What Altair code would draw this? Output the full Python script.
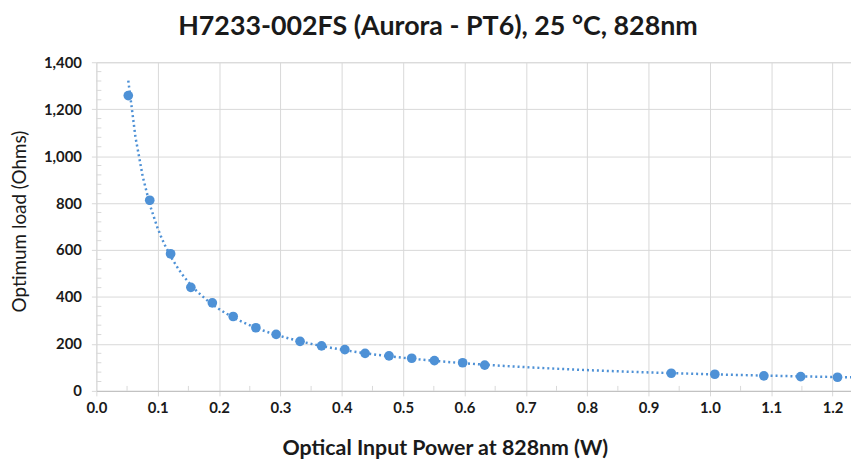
import altair as alt
import pandas as pd

# Measured data (optical input power in W, optimum load in Ohms)
power = [0.052, 0.087, 0.121, 0.154, 0.189, 0.223, 0.260, 0.293, 0.332, 0.367,
         0.405, 0.438, 0.477, 0.514, 0.551, 0.597, 0.633, 0.937, 1.008, 1.088,
         1.148, 1.208]
load = [1258, 812, 584, 441, 375, 317, 269, 241, 211, 192,
        176, 160, 149, 139, 129, 120, 110, 75, 71, 64,
        61, 58]

x_ticks = [0.0, 0.1, 0.2, 0.3, 0.4, 0.5, 0.6, 0.7, 0.8, 0.9, 1.0, 1.1, 1.2]
y_ticks = [0, 200, 400, 600, 800, 1000, 1200, 1400]
x_minor = [0.05, 0.15, 0.25, 0.35, 0.45, 0.55, 0.65, 0.75, 0.85, 0.95, 1.05, 1.15]
y_minor = [v for v in range(40, 1400, 40) if v % 200 != 0]

df = pd.DataFrame({"power": power, "load": load})
df_xm = pd.DataFrame({"v": x_minor})
df_ym = pd.DataFrame({"v": y_minor})

FONT = "Lato"
BLUE = "#4e91d6"
GRID = "#d9d9d9"

xscale = alt.Scale(domain=[0, 1.23], nice=False, zero=False)
yscale = alt.Scale(domain=[0, 1400], nice=False)

xaxis = alt.Axis(values=x_ticks, format=".1f", title="Optical Input Power at 828nm (W)",
                 grid=True, gridColor=GRID, domainColor="#bfbfbf", tickColor=GRID,
                 tickSize=5, labelPadding=5, labelFontSize=15, labelFontWeight="bold",
                 labelFlush=False,
                 labelFont=FONT, labelColor="#1a1a1a", titleFont=FONT, titleFontSize=21.5,
                 titleFontWeight="bold", titleColor="#1a1a1a", titlePadding=22,
                 titleX=351)
yaxis = alt.Axis(values=y_ticks, format=",d", title="Optimum load (Ohms)",
                 grid=True, gridColor=GRID, domain=False, tickColor=GRID,
                 tickSize=5, labelPadding=10, labelFontSize=15, labelFontWeight="bold",
                 labelFlush=False,
                 labelFont=FONT, labelColor="#1a1a1a", titleFont=FONT, titleFontSize=19,
                 titleFontWeight="normal", titleColor="#1a1a1a", titlePadding=14,
                 titleY=160)

points = alt.Chart(df).mark_point(filled=True, size=95, opacity=1, color=BLUE).encode(
    x=alt.X("power:Q", scale=xscale, axis=xaxis),
    y=alt.Y("load:Q", scale=yscale, axis=yaxis),
)

trend = alt.Chart(df).transform_regression(
    "power", "load", method="pow", extent=[0.052, 1.23]
).mark_line(color=BLUE, strokeWidth=2.5, strokeDash=[2, 3]).encode(
    x=alt.X("power:Q", scale=xscale),
    y=alt.Y("load:Q", scale=yscale),
)

xminor = alt.Chart(df_xm).mark_rule(color=GRID, strokeWidth=1).encode(
    x=alt.X("v:Q", scale=xscale),
    y=alt.value(331), y2=alt.value(326),
)
yminor = alt.Chart(df_ym).mark_rule(color=GRID, strokeWidth=1).encode(
    y=alt.Y("v:Q", scale=yscale),
    x=alt.value(0), x2=alt.value(5),
)

chart = alt.layer(xminor, yminor, trend, points).properties(
    width=760, height=331,
    autosize=alt.AutoSizeParams(type="none"),
    padding={"left": 89, "top": 53, "right": 0, "bottom": 70},
    title=alt.TitleParams("H7233-002FS (Aurora - PT6), 25 °C, 828nm", font=FONT,
                          fontSize=27, fontWeight="bold", color="#1a1a1a",
                          anchor="middle", dx=-36, offset=14),
).configure_view(stroke=None).configure(background="white")

chart.save("out.html", embed_options={"renderer": "svg", "actions": False})
